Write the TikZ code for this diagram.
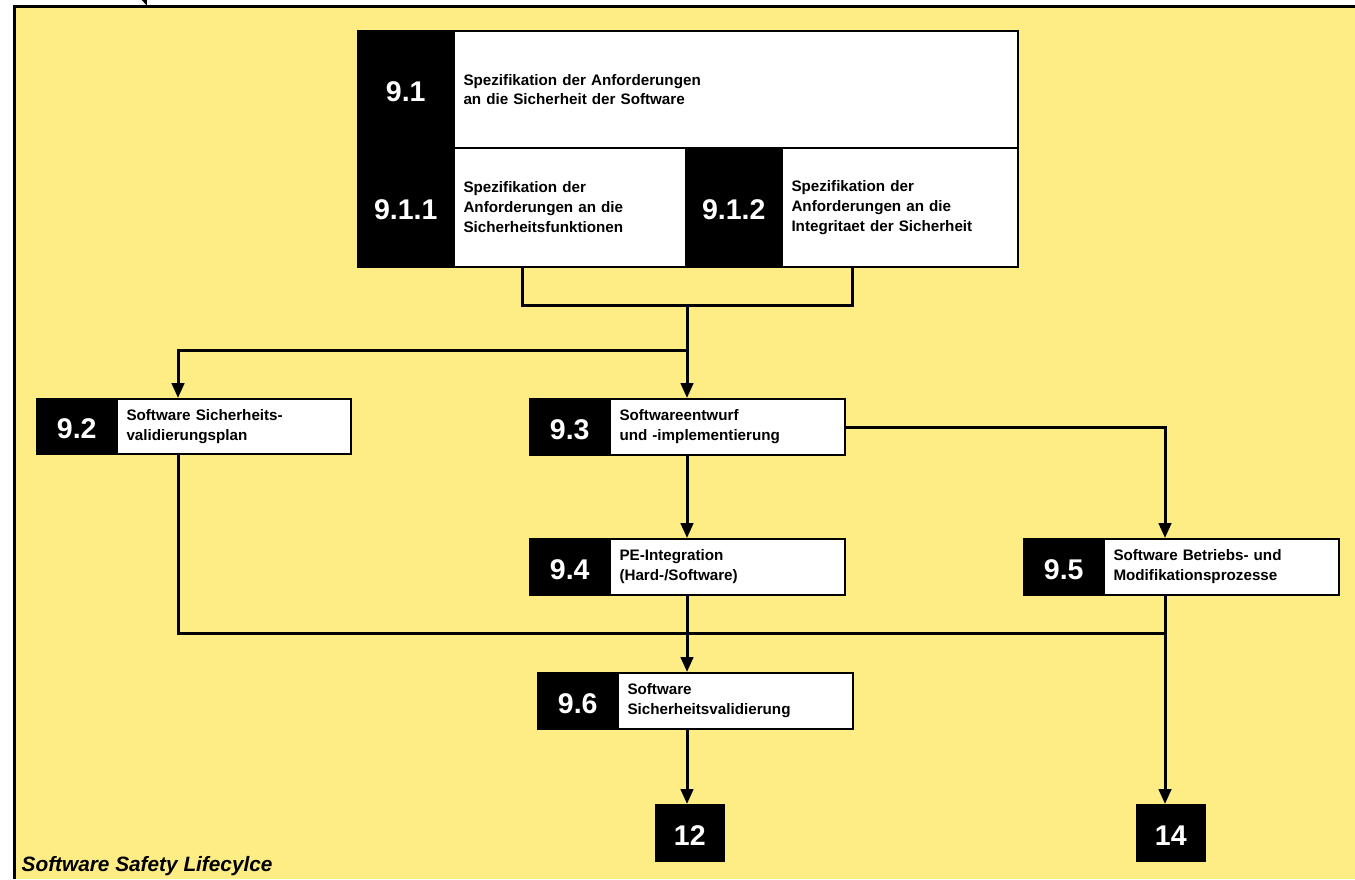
\documentclass[tikz,border=0pt]{standalone}
\usepackage{fontspec}
\setmainfont{Liberation Sans}
\usetikzlibrary{arrows.meta,calc}
\definecolor{paper}{RGB}{253,237,132}

\tikzset{
  numbox/.style={fill=black, draw=black, line width=1.5pt, text=white,
    font=\fontsize{28.5}{30}\selectfont\bfseries, inner sep=0pt, anchor=north west,
    text height=25pt, text depth=0pt},
  txtbox/.style={fill=white, draw=black, line width=2pt, anchor=north west,
    font=\fontsize{15.2}{20}\selectfont\bfseries, align=left,
    inner xsep=9.5pt, inner ysep=0pt},
  link/.style={line width=3pt},
  flow/.style={link, -{Triangle[width=12.5pt,length=15pt]}}
}

\begin{document}
\begin{tikzpicture}[x=1pt,y=-1pt]
  \useasboundingbox (0,0) rectangle (1355,879);
  \fill[white] (0,0) rectangle (1355,879);

  % sheet background and frame
  \fill[paper] (14,6.5) rectangle (1355,879);
  \draw[line width=3pt] (14,879) -- (14,6.5) -- (1355,6.5);
  \fill (141.7,0) -- (146.8,0) -- (146.8,5.5) -- cycle;

  % 9.1 with its two sub-steps
  \node[numbox, minimum width=96pt, minimum height=117pt] (n91) at (357,30) {9.1};
  \node[txtbox, minimum width=564pt, minimum height=117pt, text width=545pt,
    font=\fontsize{15.2}{19}\selectfont\bfseries] (t91) at (453,30)
    {Spezifikation der Anforderungen\\an die Sicherheit der Software\\[7pt]};
  \node[numbox, minimum width=96pt, minimum height=119pt] (n911) at (357,147) {9.1.1};
  \node[txtbox, minimum width=232pt, minimum height=119pt, text width=213pt] (t911) at (453,147)
    {Spezifikation der\\Anforderungen an die\\Sicherheitsfunktionen};
  \node[numbox, minimum width=96pt, minimum height=119pt] (n912) at (685,147) {9.1.2};
  \node[txtbox, minimum width=236pt, minimum height=119pt, text width=217pt] (t912) at (781,147)
    {Spezifikation der\\Anforderungen an die\\Integritaet der Sicherheit};

  % 9.2 .. 9.6
  \node[numbox, minimum width=80pt, minimum height=55pt] (n92) at (36,398) {9.2};
  \node[txtbox, minimum width=234pt, minimum height=55pt, text width=215pt] (t92) at (116,398)
    {Software Sicherheits-\\validierungsplan};
  \node[numbox, minimum width=80pt, minimum height=56pt] (n93) at (529,398) {9.3};
  \node[txtbox, minimum width=235pt, minimum height=56pt, text width=216pt] (t93) at (609,398)
    {Softwareentwurf\\und -implementierung};
  \node[numbox, minimum width=80pt, minimum height=56pt] (n94) at (529,538) {9.4};
  \node[txtbox, minimum width=235pt, minimum height=56pt, text width=216pt] (t94) at (609,538)
    {PE-Integration\\(Hard-/Software)};
  \node[numbox, minimum width=80pt, minimum height=56pt] (n95) at (1023,538) {9.5};
  \node[txtbox, minimum width=235pt, minimum height=56pt, text width=216pt] (t95) at (1103,538)
    {Software Betriebs- und\\Modifikationsprozesse};
  \node[numbox, minimum width=80pt, minimum height=56pt] (n96) at (537,672) {9.6};
  \node[txtbox, minimum width=235pt, minimum height=56pt, text width=216pt] (t96) at (617,672)
    {Software\\Sicherheitsvalidierung};

  % following phases
  \node[numbox, minimum width=68pt, minimum height=56pt] (n12) at (655,804) {12};
  \node[numbox, minimum width=68pt, minimum height=56pt] (n14) at (1136,804) {14};

  % title
  \node[anchor=base west, inner sep=0pt, font=\fontsize{20.8}{24}\selectfont\bfseries\itshape]
    (title) at (21.5,871) {Software Safety Lifecylce};

  % junctions of the flow lines
  \coordinate (j0) at (687,305);
  \coordinate (j1) at (687,350);
  \coordinate (bL) at (178,350);
  \coordinate (colR) at (1165,633);
  \coordinate (c911) at ($(n911.south west)!0.5!(t911.south east)$);
  \coordinate (c912) at ($(n912.south west)!0.5!(t912.south east)$);

  % connectors
  \draw[link] (c911) |- (j0) -| (c912);
  \draw[link] (j0) -- (j1);
  \draw[flow] (j1) -- (j1 |- t93.north);
  \draw[flow] (j1) -- (bL) -- (bL |- t92.north);
  \draw[flow] (t93.east) -| (colR |- t95.north);
  \draw[flow] (j1 |- t93.south) -- (j1 |- t94.north);
  \draw[flow] (j1 |- t94.south) -- (j1 |- t96.north);
  \draw[link] (bL |- t92.south) |- (colR);
  \draw[flow] (colR |- t95.south) -- (colR |- n14.north);
  \draw[flow] (j1 |- t96.south) -- (j1 |- n12.north);
\end{tikzpicture}
\end{document}
